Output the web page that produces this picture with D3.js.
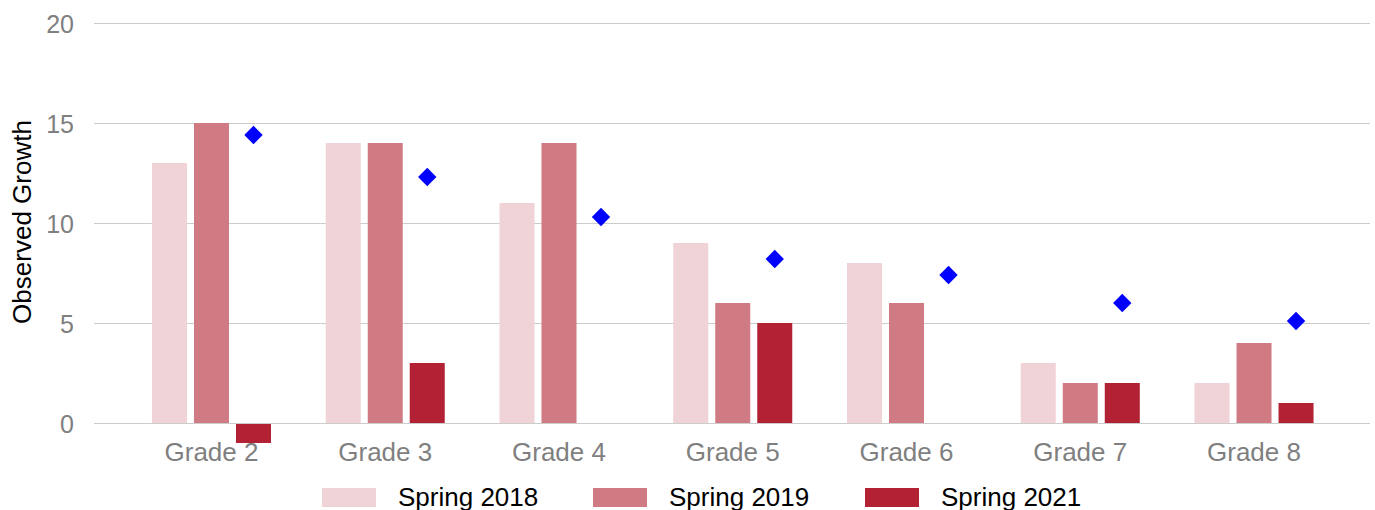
<!DOCTYPE html>
<html>
<head>
<meta charset="utf-8">
<script src="https://cdn.jsdelivr.net/npm/d3@7"></script>
<style>
  html, body { margin: 0; padding: 0; background: #fff; }
  svg { display: block; font-family: Arial, "Liberation Sans", sans-serif; }
</style>
</head>
<body>
<svg id="chart" width="1375" height="510"></svg>
<script>
const categories = ["Grade 2", "Grade 3", "Grade 4", "Grade 5", "Grade 6", "Grade 7", "Grade 8"];
const seriesNames = ["Spring 2018", "Spring 2019", "Spring 2021"];
const spring2018 = [13, 14, 11, 9, 8, 3, 2];
const spring2019 = [15, 14, 14, 6, 6, 2, 4];
const spring2021 = [-1, 3, null, 5, null, 2, 1];
const expectedGrowth = [14.4, 12.3, 10.3, 8.2, 7.4, 6.0, 5.1];
const yTicks = [0, 5, 10, 15, 20];
const colors = ["#efd3d7", "#d07a84", "#b22234"];
const seriesValues = [spring2018, spring2019, spring2021];

const svg = d3.select("#chart");

const plotLeft = 94, plotRight = 1370;
const y = d3.scaleLinear().domain([0, 20]).range([423, 23]);

const x0 = d3.scaleBand().domain(categories).range([124.6, 1340.9])
  .paddingInner(0.315).paddingOuter(0.1575);
const x1 = d3.scaleBand().domain(seriesNames).range([0, x0.bandwidth()])
  .paddingInner(0.1667).paddingOuter(0);

// gridlines
svg.append("g").selectAll("line").data(yTicks).join("line")
  .attr("x1", plotLeft).attr("x2", plotRight)
  .attr("y1", d => Math.round(y(d)) + 0.5).attr("y2", d => Math.round(y(d)) + 0.5)
  .attr("stroke", "#cccccc").attr("stroke-width", 1);

// y tick labels
svg.append("g").selectAll("text").data(yTicks).join("text")
  .attr("x", 74).attr("y", d => y(d) + 9.5)
  .attr("text-anchor", "end").attr("fill", "#7f7f7f")
  .attr("font-size", 25).text(d => d);

// bars
const groups = svg.append("g").selectAll("g").data(categories).join("g")
  .attr("transform", c => `translate(${x0(c)},0)`);
groups.selectAll("rect")
  .data((c, i) => seriesNames.map((s, j) => ({ s, j, v: seriesValues[j][i] })).filter(d => d.v !== null))
  .join("rect")
  .attr("x", d => x1(d.s))
  .attr("width", x1.bandwidth())
  .attr("y", d => Math.min(y(d.v), y(0)) + (d.v < 0 ? 1 : 0))
  .attr("height", d => Math.abs(y(d.v) - y(0)) - (d.v < 0 ? 1 : 0))
  .attr("fill", d => colors[d.j]);

// diamonds
const diamond = d3.symbol().type(d3.symbolSquare).size(13 * 13);
svg.append("g").selectAll("path").data(categories).join("path")
  .attr("d", diamond)
  .attr("transform", (c, i) => `translate(${x0(c) + x1("Spring 2021") + x1.bandwidth() / 2},${y(expectedGrowth[i])}) rotate(45)`)
  .attr("fill", "#0000ff");

// x labels
svg.append("g").selectAll("text").data(categories).join("text")
  .attr("x", c => x0(c) + x0.bandwidth() / 2).attr("y", 461)
  .attr("text-anchor", "middle").attr("fill", "#7f7f7f")
  .attr("font-size", 26).text(c => c);

// y title
svg.append("text")
  .attr("transform", "translate(31,222) rotate(-90)")
  .attr("text-anchor", "middle").attr("fill", "#000")
  .attr("font-size", 26).text("Observed Growth");

// legend
const legendX = [322, 593, 865];
const lg = svg.append("g").selectAll("g").data(seriesNames).join("g")
  .attr("transform", (s, i) => `translate(${legendX[i]},0)`);
lg.append("rect").attr("x", 0).attr("y", 488).attr("width", 54).attr("height", 19)
  .attr("fill", (s, i) => colors[i]);
lg.append("text").attr("x", 76).attr("y", 506)
  .attr("fill", "#000").attr("font-size", 26).text(s => s);
</script>
</body>
</html>
